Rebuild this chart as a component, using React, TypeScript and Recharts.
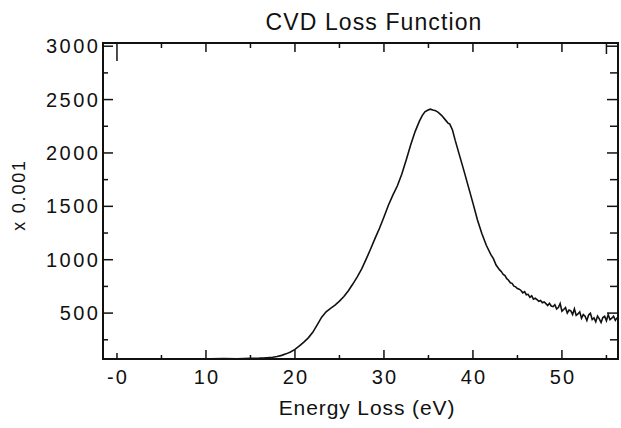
import React from "react";
import { LineChart, Line, XAxis, YAxis, ReferenceLine, ReferenceArea, Label } from "recharts";

// Energy loss (eV)
const energy = [
  -1.5, 0, 1.5, 3, 4.5, 6, 7.5, 9, 10.5, 12, 13.5, 15, 16, 16.5, 17, 17.5, 18, 18.5, 19, 19.5,
  20, 20.5, 21, 21.5, 22, 22.5, 23, 23.5, 24, 24.5, 25, 25.5, 26, 26.5, 27, 27.5, 28, 28.5, 29, 29.5,
  30, 30.5, 31, 31.5, 32, 32.5, 33, 33.5, 34, 34.3, 34.6, 34.9, 35.2, 35.5, 35.8, 36.1, 36.5, 36.9, 37.2, 37.4,
  37.7, 38, 38.5, 39, 39.5, 40, 40.5, 41, 41.5, 42, 42.3, 42.6, 43,
  43.2, 43.4, 43.6, 43.8, 44.0, 44.2, 44.4, 44.6, 44.8, 45.0, 45.2, 45.4, 45.6, 45.8, 46.0, 46.2, 46.4, 46.6, 46.8, 47.0,
  47.2, 47.4, 47.6, 47.8, 48.0, 48.2, 48.4, 48.6, 48.8, 49.0, 49.2, 49.4, 49.6, 49.8, 50.0, 50.2, 50.4, 50.6, 50.8, 51.0,
  51.2, 51.4, 51.6, 51.8, 52.0, 52.2, 52.4, 52.6, 52.8, 53.0, 53.2, 53.4, 53.6, 53.8, 54.0, 54.2, 54.4, 54.6, 54.8, 55.0,
  55.2, 55.4, 55.6, 55.8, 56.0, 56.2,
];

// Loss function (x 0.001)
const intensity = [
  72, 73, 72, 73, 72, 73, 72, 73, 72, 74, 73, 76, 78, 80, 83, 87, 94, 104, 118, 136,
  160, 192, 228, 268, 320, 390, 462, 512, 545, 575, 612, 655, 710, 772, 840, 915, 1005, 1100, 1200, 1295,
  1400, 1510, 1605, 1690, 1800, 1935, 2075, 2200, 2300, 2350, 2385, 2400, 2410, 2402, 2396, 2380, 2350, 2310, 2280, 2270,
  2215, 2120, 1975, 1830, 1680, 1530, 1375, 1245, 1135, 1050, 1010, 950, 905,
  888, 862, 851, 822, 808, 784, 779, 752, 746, 730, 724, 712, 690, 701, 672, 676, 648, 662, 631, 640,
  626, 611, 618, 596, 604, 589, 571, 592, 566, 560, 578, 539, 552, 590, 518, 534, 552, 500, 528, 521,
  486, 540, 478, 492, 512, 452, 486, 470, 431, 482, 498, 440, 455, 418, 472, 446, 412, 458, 470, 428,
  486, 438, 452, 471, 432, 458,
];

const xTickValues = [0, 10, 20, 30, 40, 50];
const xTickLabels = ["-0", "10", "20", "30", "40", "50"];
const xMinorTicks = [0, 5, 15, 25, 35, 45, 55];
const yTickValues = [500, 1000, 1500, 2000, 2500, 3000];
const yTickLabels = ["500", "1000", "1500", "2000", "2500", "3000"];
const yMinorTicks = [250, 750, 1250, 1750, 2250, 2750];

const title = "CVD Loss Function";
const xTitle = "Energy Loss (eV)";
const yTitle = "x 0.001";

const data = energy.map((e, i) => ({ e, v: intensity[i] }));

const X_DOMAIN: [number, number] = [-1.57, 56.3];
const Y_DOMAIN: [number, number] = [70, 3030];
const PLOT_W = 515;
const PLOT_H = 316;
const UX = (X_DOMAIN[1] - X_DOMAIN[0]) / PLOT_W; // eV per pixel
const UY = (Y_DOMAIN[1] - Y_DOMAIN[0]) / PLOT_H; // value per pixel

const FONT = "'Liberation Sans', Arial, Helvetica, sans-serif";
const INK = "#111";

const XTick = (props: any) => {
  const { x, y, payload } = props;
  const idx = xTickValues.indexOf(payload.value);
  const label = idx >= 0 ? xTickLabels[idx] : String(payload.value);
  return (
    <text x={x + 1} y={y + 25} textAnchor="middle" fontSize={20} fontFamily={FONT} fill={INK} letterSpacing={2}>
      {label}
    </text>
  );
};

const YTick = (props: any) => {
  const { x, y, payload } = props;
  const idx = yTickValues.indexOf(payload.value);
  const label = idx >= 0 ? yTickLabels[idx] : String(payload.value);
  return (
    <text x={x - 2.5} y={y + 7} textAnchor="end" fontSize={20} fontFamily={FONT} fill={INK} letterSpacing={2.5}>
      {label}
    </text>
  );
};

const tickStyle = { stroke: INK, strokeWidth: 1.5 };

export default function App() {
  const ticks: React.ReactNode[] = [];
  xTickValues.forEach((t) => {
    if (t === 0) return;
    ticks.push(
      <ReferenceLine key={`bM${t}`} ifOverflow="visible" {...tickStyle}
        segment={[{ x: t, y: Y_DOMAIN[0] }, { x: t, y: Y_DOMAIN[0] + 9 * UY }]} />
    );
    ticks.push(
      <ReferenceLine key={`tM${t}`} ifOverflow="visible" {...tickStyle}
        segment={[{ x: t, y: Y_DOMAIN[1] }, { x: t, y: Y_DOMAIN[1] - 9 * UY }]} />
    );
  });
  xMinorTicks.forEach((t) => {
    const lb = t === 0 ? 6 : 4;
    const lt = t === 0 ? 18 : t === 55 ? 11 : 5;
    ticks.push(
      <ReferenceLine key={`bm${t}`} ifOverflow="visible" {...tickStyle}
        segment={[{ x: t, y: Y_DOMAIN[0] }, { x: t, y: Y_DOMAIN[0] + lb * UY }]} />
    );
    ticks.push(
      <ReferenceLine key={`tm${t}`} ifOverflow="visible" {...tickStyle}
        segment={[{ x: t, y: Y_DOMAIN[1] }, { x: t, y: Y_DOMAIN[1] - lt * UY }]} />
    );
  });
  yTickValues.forEach((t) => {
    ticks.push(
      <ReferenceLine key={`lM${t}`} ifOverflow="visible" {...tickStyle}
        segment={[{ x: X_DOMAIN[0], y: t }, { x: X_DOMAIN[0] + 10 * UX, y: t }]} />
    );
    ticks.push(
      <ReferenceLine key={`rM${t}`} ifOverflow="visible" {...tickStyle}
        segment={[{ x: X_DOMAIN[1], y: t }, { x: X_DOMAIN[1] - 11 * UX, y: t }]} />
    );
  });
  yMinorTicks.forEach((t) => {
    ticks.push(
      <ReferenceLine key={`lm${t}`} ifOverflow="visible" {...tickStyle}
        segment={[{ x: X_DOMAIN[0], y: t }, { x: X_DOMAIN[0] + 5 * UX, y: t }]} />
    );
    ticks.push(
      <ReferenceLine key={`rm${t}`} ifOverflow="visible" {...tickStyle}
        segment={[{ x: X_DOMAIN[1], y: t }, { x: X_DOMAIN[1] - 8 * UX, y: t }]} />
    );
  });

  return (
    <div style={{ position: "absolute", left: 0, top: 0, width: 621, height: 428, background: "#fff" }}>
      <div
        style={{
          position: "absolute",
          left: 374,
          top: 11,
          transform: "translateX(-50%)",
          whiteSpace: "nowrap",
          fontFamily: FONT,
          fontSize: 23,
          lineHeight: "23px",
          letterSpacing: "1.1px",
          color: INK,
        }}
      >
        {title}
      </div>
      <LineChart width={621} height={428} data={data} margin={{ top: 43, right: 3, bottom: 0, left: 0 }}>
        <XAxis
          dataKey="e"
          type="number"
          domain={X_DOMAIN}
          allowDataOverflow
          ticks={xTickValues}
          tick={<XTick />}
          tickLine={false}
          axisLine={false}
          tickSize={0}
          tickMargin={0}
          height={69}
          interval={0}
        >
          <Label
            content={() => (
              <text x={367} y={415} textAnchor="middle" fontSize={21} fontFamily={FONT} fill={INK} letterSpacing={0.9}>
                {xTitle}
              </text>
            )}
          />
        </XAxis>
        <YAxis
          type="number"
          domain={Y_DOMAIN}
          allowDataOverflow
          ticks={yTickValues}
          tick={<YTick />}
          tickLine={false}
          axisLine={false}
          tickSize={0}
          tickMargin={0}
          width={103}
          interval={0}
        >
          <Label
            content={() => (
              <text
                x={25}
                y={195}
                transform="rotate(-90 25 195)"
                textAnchor="middle"
                fontSize={18}
                fontFamily={FONT}
                fill={INK}
                letterSpacing={1.8}
              >
                {yTitle}
              </text>
            )}
          />
        </YAxis>
        <ReferenceArea
          x1={X_DOMAIN[0]}
          x2={X_DOMAIN[1]}
          y1={Y_DOMAIN[0]}
          y2={Y_DOMAIN[1]}
          fill="none"
          fillOpacity={0}
          stroke={INK}
          strokeWidth={2}
          ifOverflow="visible"
        />
        {ticks}
        <Line
          type="linear"
          dataKey="v"
          stroke={INK}
          strokeWidth={1.6}
          dot={false}
          isAnimationActive={false}
        />
      </LineChart>
    </div>
  );
}
